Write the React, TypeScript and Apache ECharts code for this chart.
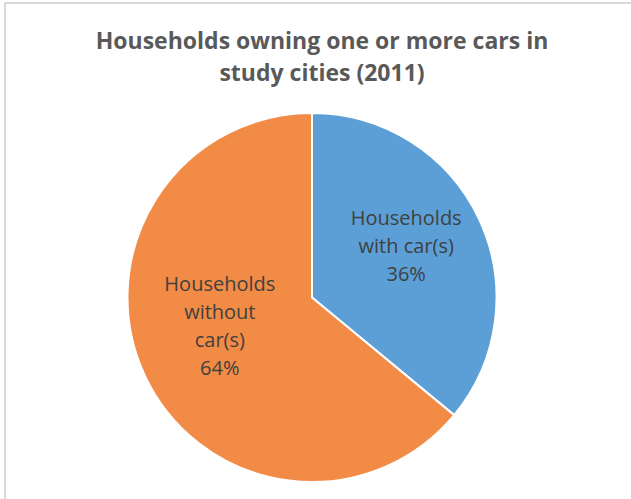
import React, { useEffect, useRef } from "react";
import * as echarts from "echarts";

const titleText = "Households owning one or more cars in\nstudy cities (2011)";
const categories = ["Households\nwith car(s)", "Households\nwithout\ncar(s)"];
const values = [36, 64];
const colors = ["#5B9FD6", "#F28B45"];

export default function App() {
  const ref = useRef<HTMLDivElement>(null);
  useEffect(() => {
    if (!ref.current) return;
    const chart = echarts.init(ref.current, null, { renderer: "svg" });
    chart.setOption({
      animation: false,
      backgroundColor: "#ffffff",
      title: {
        text: titleText,
        left: 317,
        textAlign: "center",
        top: 19,
        textStyle: {
          fontFamily: "Open Sans",
          fontWeight: "bold",
          fontSize: 23,
          lineHeight: 32,
          color: "#595959",
        },
      },
      graphic: [
        {
          type: "rect",
          shape: { x: 5, y: 3, width: 800, height: 700 },
          style: { fill: "none", stroke: "#d9d9d9", lineWidth: 2 },
          silent: true,
        },
      ],
      series: [
        {
          type: "pie",
          center: [312, 297.5],
          radius: 184.5,
          startAngle: 90,
          clockwise: true,
          itemStyle: { borderColor: "#ffffff", borderWidth: 2 },
          label: {
            position: "inside",
            formatter: (p: any) => `${p.name}\n${p.value}%`,
            fontFamily: "Open Sans",
            fontSize: 20,
            lineHeight: 28,
            color: "#404040",
          },
          labelLayout: (p: any) =>
            p.dataIndex === 0 ? { dx: 8, dy: -11 } : { dx: -6, dy: -13 },
          labelLine: { show: false },
          emphasis: { disabled: true },
          data: categories.map((c, i) => ({
            name: c,
            value: values[i],
            itemStyle: { color: colors[i] },
          })),
        },
      ],
    });
    return () => chart.dispose();
  }, []);
  return (
    <div
      ref={ref}
      style={{ position: "absolute", left: 0, top: 0, width: 631, height: 499 }}
    />
  );
}
